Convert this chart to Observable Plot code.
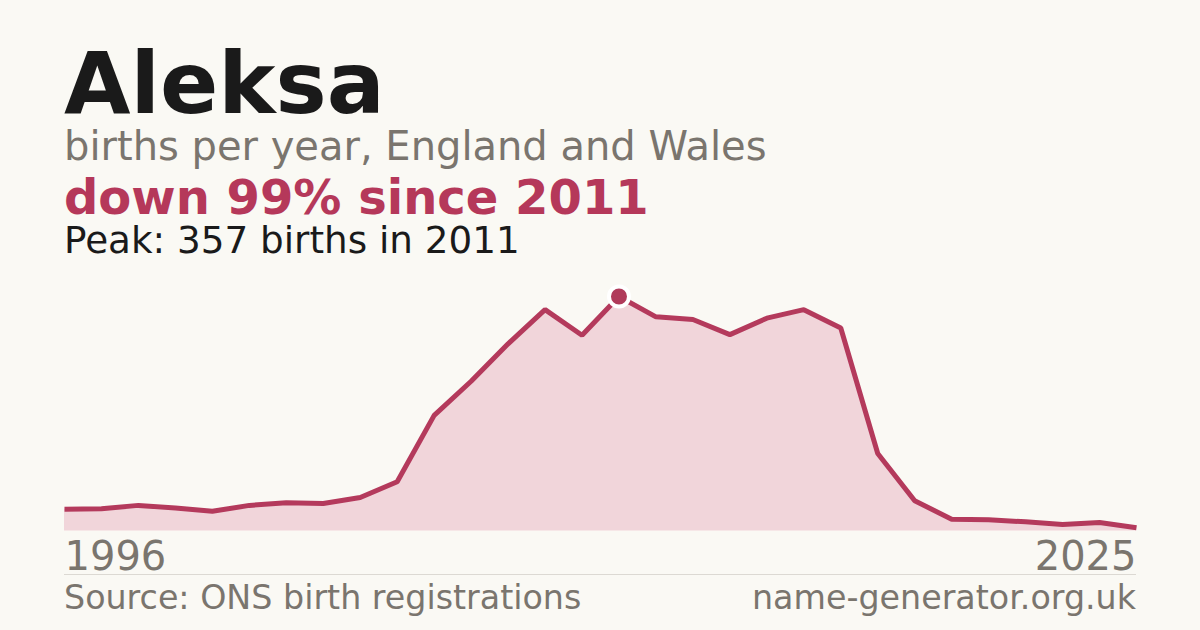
<!DOCTYPE html>
<html>
<head>
<meta charset="utf-8">
<script src="https://cdn.jsdelivr.net/npm/d3@7"></script>
<script src="https://cdn.jsdelivr.net/npm/@observablehq/plot@0.6"></script>
<style>
  html, body { margin: 0; padding: 0; background: #faf9f4; }
  body { width: 1200px; height: 630px; position: relative; overflow: hidden; font-family: "DejaVu Sans", sans-serif; }
  .t { position: absolute; left: 64px; line-height: 0.8; white-space: nowrap; }
  #title { top: 48.8px; font-size: 86px; font-weight: bold; color: #1a1a1a; }
  #sub { top: 129.5px; font-size: 40px; color: #7a756e; }
  #change { top: 178.2px; font-size: 48px; font-weight: bold; color: #b5385a; }
  #peak { top: 226.2px; font-size: 37.3px; color: #1a1a1a; }
  #chart { position: absolute; left: 0; top: 260px; }
  #rule { position: absolute; left: 64px; top: 574px; width: 1072px; height: 1px; background: #dcd9d3; }
  #source { top: 584.5px; font-size: 33.3px; color: #7a756e; }
  #site { top: 584.5px; left: auto; right: 64px; font-size: 33.3px; color: #7a756e; }
</style>
</head>
<body>
<div class="t" id="title">Aleksa</div>
<div class="t" id="sub">births per year, England and Wales</div>
<div class="t" id="change">down 99% since 2011</div>
<div class="t" id="peak">Peak: 357 births in 2011</div>
<div id="chart"></div>
<div id="rule"></div>
<div class="t" id="source">Source: ONS birth registrations</div>
<div class="t" id="site">name-generator.org.uk</div>
<script>
const years = [1996, 1997, 1998, 1999, 2000, 2001, 2002, 2003, 2004, 2005,
               2006, 2007, 2008, 2009, 2010, 2011, 2012, 2013, 2014, 2015,
               2016, 2017, 2018, 2019, 2020, 2021, 2022, 2023, 2024, 2025];
const births = [33, 34, 39, 35, 30, 39, 43, 42, 51, 75,
                176, 228, 285, 337, 298, 357, 326, 322, 299, 324,
                337, 309, 118, 46, 18, 17, 14, 10, 13, 5];
const tickYears = [1996, 2025];
const tickLabels = ["1996", "2025"];
const peakYear = 2011;
const peakValue = 357;

const data = years.map((y, i) => ({year: y, births: births[i]}));
const peak = [{year: peakYear, births: peakValue}];
const ticks = tickYears.map((y, i) => ({year: y, label: tickLabels[i]}));

const chart = Plot.plot({
  width: 1200,
  height: 320,
  marginLeft: 64,
  marginRight: 64,
  marginTop: 36,
  marginBottom: 49.5,
  x: {domain: [1996, 2025], axis: null},
  y: {domain: [0, 357], axis: null},
  style: {background: "transparent", fontFamily: "DejaVu Sans, sans-serif", overflow: "visible"},
  marks: [
    Plot.areaY(data, {x: "year", y: "births", fill: "#f1d5da"}),
    Plot.lineY(data, {x: "year", y: "births", stroke: "#b43a5c", strokeWidth: 5, strokeLinejoin: "miter", strokeLinecap: "butt"}),
    Plot.dot(peak, {x: "year", y: "births", r: 10, fill: "#b03a5a", stroke: "white", strokeWidth: 4}),
    Plot.text(ticks.slice(0, 1), {x: "year", y: () => 0, text: "label", textAnchor: "start", lineAnchor: "bottom", dy: 38.8, fontSize: 40, fill: "#7a756e"}),
    Plot.text(ticks.slice(1), {x: "year", y: () => 0, text: "label", textAnchor: "end", lineAnchor: "bottom", dy: 38.8, fontSize: 40, fill: "#7a756e"})
  ]
});
document.getElementById("chart").appendChild(chart);
</script>
</body>
</html>
